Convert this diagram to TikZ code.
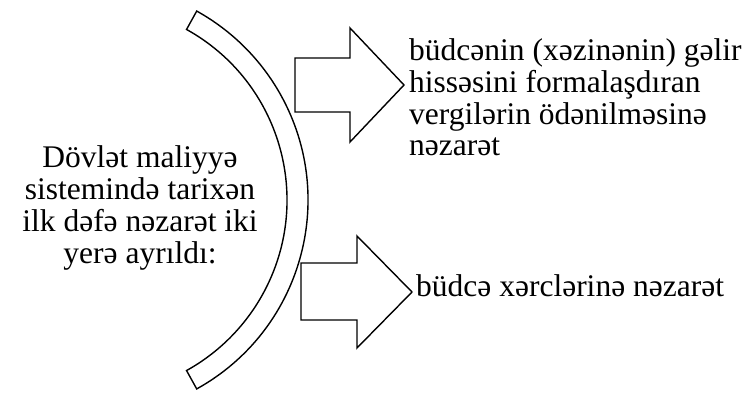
\documentclass[tikz,border=0pt]{standalone}
\usepackage{fontspec}
\setmainfont{Liberation Serif}
\tikzset{
  outl/.style={draw=black, fill=white, line width=1.4pt, line join=miter},
  txt/.style={inner sep=0pt, font=\fontsize{31.5}{31.8}\selectfont}
}
\begin{document}
\begin{tikzpicture}[x=1pt,y=-1pt]
\useasboundingbox (0,0) rectangle (747,398);
\coordinate (c) at (92,200);
% curved band
\draw[outl] ([shift={(61:216)}]c) arc[start angle=61,end angle=-61,radius=216]
  -- ([shift={(-61:195)}]c) arc[start angle=-61,end angle=61,radius=195] -- cycle;
% block arrows
\draw[outl] (295,58) -- (350,58) -- (350,28) -- (404,85) -- (350,142) -- (350,112) -- (295,112) -- cycle;
\draw[outl] (301,263) -- (357,263) -- (357,236) -- (412,292) -- (357,348) -- (357,320) -- (301,320) -- cycle;
% texts
\node[txt, align=center, anchor=base] (left) at (140,263)
  {Dövlət maliyyə\\sistemində tarixən\\ilk dəfə nəzarət iki\\yerə ayrıldı:};
\node[txt, align=left, anchor=base west] (r1) at (409,156)
  {büdcənin (xəzinənin) gəlir\\hissəsini formalaşdıran\\vergilərin ödənilməsinə\\nəzarət};
\node[txt, anchor=base west] (r2) at (416,296) {büdcə xərclərinə nəzarət};
\end{tikzpicture}
\end{document}
